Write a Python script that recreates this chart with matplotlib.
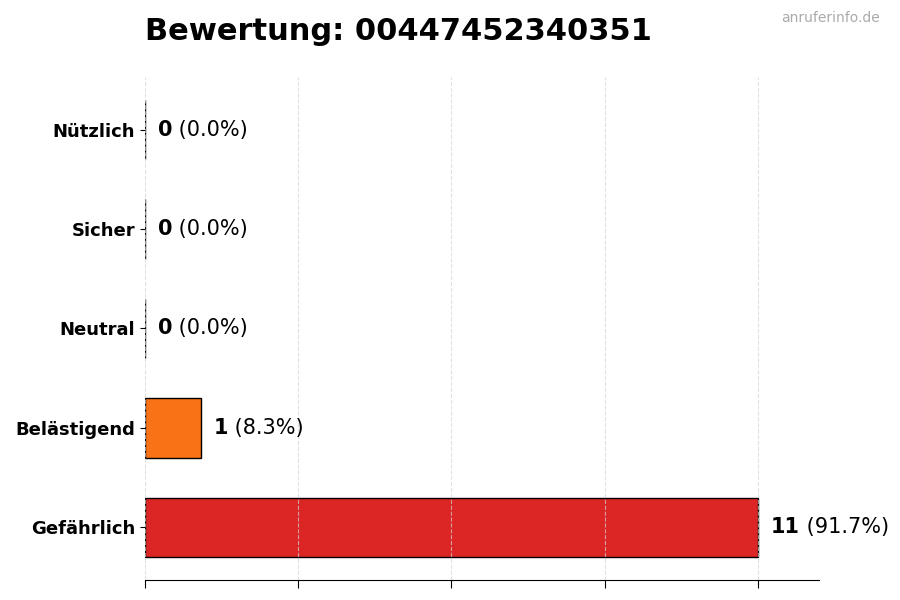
import numpy as np
import matplotlib
matplotlib.use('Agg')
import matplotlib.pyplot as plt

# ── Data ──────────────────────────────────────────────
categories = ['Gefährlich', 'Belästigend', 'Neutral', 'Sicher', 'Nützlich']
counts     = [11, 1, 0, 0, 0]
colors     = ['#dc2626', '#f97316', '#a3a3a3', '#22c55e', '#16a34a']
number     = '00447452340351'

total = sum(counts)
xmax  = max(counts)

# ── Plot ──────────────────────────────────────────────
fig = plt.figure(figsize=(9, 6), dpi=100)
ax = fig.add_axes([0.161, 0.033, 0.749, 0.839])

y = np.arange(len(categories))
ax.barh(y, counts, height=0.6, color=colors, edgecolor='black',
        linewidth=1, zorder=2)

ax.set_xlim(0, xmax * 1.1)
ax.set_xticks(np.linspace(0, xmax, 5))
ax.set_xticklabels([])
ax.set_yticks(y)
ax.set_yticklabels(categories, fontsize=13, fontweight='bold')
ax.tick_params(axis='x', length=6)
ax.grid(axis='x', linestyle='--', color='#d4d4d4', linewidth=0.8, alpha=0.7, zorder=3)
ax.set_axisbelow(False)

for s in ['top', 'right', 'left']:
    ax.spines[s].set_visible(False)

for yi, c in zip(y, counts):
    pct = c / total * 100
    t1 = ax.annotate(str(c), xy=(c, yi), xytext=(9.4, 0), textcoords='offset points',
                     va='center', ha='left', fontsize=15, fontweight='bold')
    ax.annotate(f' ({pct:.1f}%)', xy=(1, 0), xycoords=t1,
                va='bottom', ha='left', fontsize=15)

fig.text(0.161, 0.948, f'Bewertung: {number}', fontsize=22, fontweight='bold',
         ha='left', va='center')
fig.text(0.978, 0.97, 'anruferinfo.de', fontsize=10, color='#aaaaaa',
         ha='right', va='center')

plt.savefig('out.png', dpi=100)
plt.close()
